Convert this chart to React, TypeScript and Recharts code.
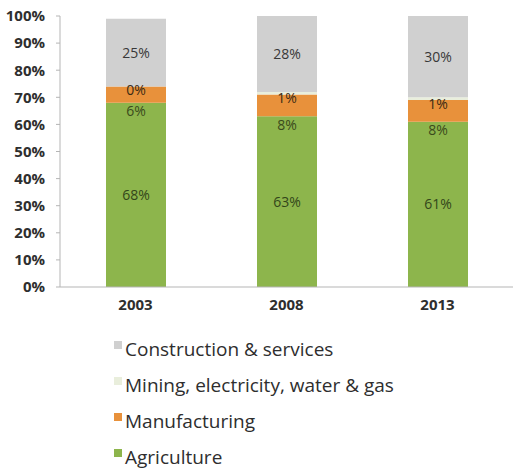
import React from 'react'
import { BarChart, Bar, XAxis, YAxis, LabelList } from 'recharts'

const years = ['2003', '2008', '2013']
const agriculture = [68, 63, 61]
const manufacturing = [6, 8, 8]
const mining = [0, 1, 1]
const construction = [25, 28, 30]
const yTicks = [0, 10, 20, 30, 40, 50, 60, 70, 80, 90, 100]

const series = [
  { key: 'agriculture', name: 'Agriculture', color: '#8db54c', text: '#33461a' },
  { key: 'manufacturing', name: 'Manufacturing', color: '#e8913b', text: '#3b4a1c' },
  { key: 'mining', name: 'Mining, electricity, water & gas', color: '#e9eedc', text: '#3a2a14' },
  { key: 'construction', name: 'Construction & services', color: '#d0d0d0', text: '#383838' },
]

const data = years.map((year, i) => ({
  year,
  agriculture: agriculture[i],
  manufacturing: manufacturing[i],
  mining: mining[i],
  construction: construction[i],
}))

const FONT = '"Open Sans", sans-serif'
const LABEL_SIZE = 14

// manufacturing value sits just under its segment, mining value just under
// the top edge of manufacturing (the mining slice is too thin to hold it)
// eslint-disable-next-line @typescript-eslint/no-explicit-any
const ManufacturingLabels = (props: any) => {
  const { x, y, width, height, value, index } = props
  const cx = Number(x) + Number(width) / 2
  return (
    <g>
      <text
        x={cx}
        y={Number(y) + Number(height) + 8}
        textAnchor="middle"
        dominantBaseline="central"
        fontSize={LABEL_SIZE}
        fontFamily={FONT}
        fill={series[1].text}
      >
        {value}%
      </text>
      <text
        x={cx}
        y={Number(y) + 3}
        textAnchor="middle"
        dominantBaseline="central"
        fontSize={LABEL_SIZE}
        fontFamily={FONT}
        fill={series[2].text}
      >
        {mining[index]}%
      </text>
    </g>
  )
}

export default function App() {
  return (
    <div style={{ position: 'absolute', left: 0, top: 0, width: 514, height: 469, background: '#fff' }}>
      <BarChart
        width={514}
        height={469}
        data={data}
        margin={{ top: 16, right: 1, bottom: 152, left: 0 }}
        barSize={60}
      >
        <XAxis
          dataKey="year"
          height={30}
          tickLine={false}
          tickSize={0}
          tickMargin={12}
          axisLine={{ stroke: '#b5b5b5' }}
          tick={{ fontSize: 15, fontWeight: 700, fill: '#2e2e2e', fontFamily: FONT }}
        />
        <YAxis
          width={60}
          domain={[0, 100]}
          ticks={yTicks}
          interval={0}
          tickFormatter={(v: number) => `${v}%`}
          tickSize={4}
          tickMargin={11}
          axisLine={{ stroke: '#b5b5b5' }}
          tickLine={{ stroke: '#b5b5b5' }}
          tick={{ fontSize: 15, fontWeight: 700, fill: '#2e2e2e', fontFamily: FONT }}
        />
        <Bar dataKey="agriculture" stackId="a" fill={series[0].color} isAnimationActive={false}>
          <LabelList
            dataKey="agriculture"
            position="center"
            formatter={(v: number) => `${v}%`}
            style={{ fontSize: LABEL_SIZE, fontFamily: FONT, fill: series[0].text }}
          />
        </Bar>
        <Bar dataKey="manufacturing" stackId="a" fill={series[1].color} isAnimationActive={false}>
          <LabelList dataKey="manufacturing" content={ManufacturingLabels} />
        </Bar>
        <Bar dataKey="mining" stackId="a" fill={series[2].color} isAnimationActive={false} />
        <Bar dataKey="construction" stackId="a" fill={series[3].color} isAnimationActive={false}>
          <LabelList
            dataKey="construction"
            position="center"
            formatter={(v: number) => `${v}%`}
            style={{ fontSize: LABEL_SIZE, fontFamily: FONT, fill: series[3].text }}
          />
        </Bar>
      </BarChart>
      <div style={{ position: 'absolute', left: 114, top: 336, fontFamily: FONT, fontSize: 19, color: '#2e2e2e' }}>
        {[...series].reverse().map((s) => (
          <div key={s.key} style={{ display: 'flex', alignItems: 'flex-start', height: 36, lineHeight: '26px' }}>
            <span style={{ width: 8, height: 8, background: s.color, marginTop: 5, marginRight: 3, flexShrink: 0 }} />
            <span>{s.name}</span>
          </div>
        ))}
      </div>
    </div>
  )
}
